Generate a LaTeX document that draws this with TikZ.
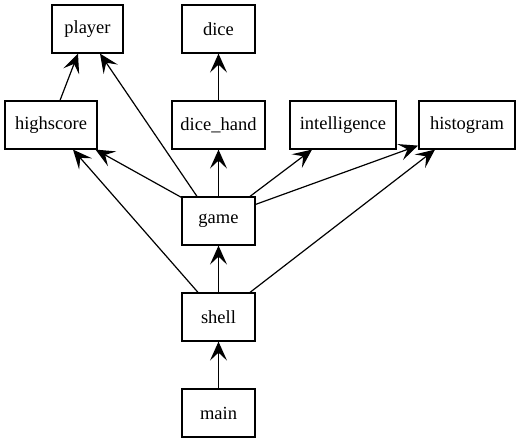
\documentclass[tikz,border=0pt]{standalone}
\usepackage{fontspec}
\setmainfont{Liberation Serif}
\usetikzlibrary{arrows.meta}
\begin{document}
\begin{tikzpicture}[x=1pt,y=-1pt,
  box/.style={draw, line width=1.2pt, minimum height=48pt, inner sep=0pt, font=\fontsize{18.5}{20}\selectfont},
  arr/.style={line width=1.2pt, -{Stealth[length=19pt,width=17pt,inset=8pt]}}]
\useasboundingbox (0,0) rectangle (520,443);
\node[box, minimum width=71pt] (player) at (87.5,29) {player};
\node[box, minimum width=73pt] (dice) at (218.5,29) {dice};
\node[box, minimum width=92pt] (highscore) at (51,125) {highscore};
\node[box, minimum width=93pt] (dicehand) at (218.5,125) {dice\_hand};
\node[box, minimum width=106pt] (intel) at (343,125) {intelligence};
\node[box, minimum width=96pt] (hist) at (467,125) {histogram};
\node[box, minimum width=73pt] (game) at (218.5,221) {game};
\node[box, minimum width=73pt] (shell) at (218.5,317) {shell};
\node[box, minimum width=73pt] (main) at (218.5,413) {main};
% edges
\draw[arr] ([xshift=9pt]highscore.north) -- ([xshift=-9.5pt]player.south);
\draw[arr] ([xshift=-21.5pt]game.north) -- ([xshift=12.5pt]player.south);
\draw[arr] (dicehand) -- (dice);
\draw[arr] ([yshift=-1pt]game.north west) -- ([xshift=44.5pt]highscore.south);
\draw[arr] (game) -- (dicehand);
\draw[arr] ([xshift=31.5pt]game.north) -- ([xshift=-31pt]intel.south);
\draw[arr] ([yshift=-8pt]game.north east) -- ([xshift=-49pt,yshift=4pt]hist.south);
\draw[arr] ([xshift=-20.5pt]shell.north) -- ([xshift=22pt]highscore.south);
\draw[arr] (shell) -- (game);
\draw[arr] ([xshift=31.5pt]shell.north) -- ([xshift=-32pt]hist.south);
\draw[arr] (main) -- (shell);
\end{tikzpicture}
\end{document}
